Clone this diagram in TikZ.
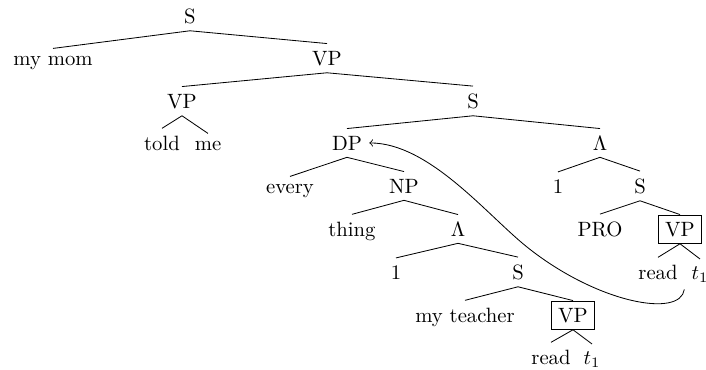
\documentclass[tikz,border=0pt]{standalone}
\usepackage{tikz}

\begin{document}
\begin{tikzpicture}[x=0.4831pt, y=-0.4831pt,
    every node/.style={anchor=base},
    boxed/.style={draw}]
    \useasboundingbox (0,0) rectangle (706,369);
    % levels of the tree
    \node (s0) at (190,23) {S};
    \node (mymom) at (53,65) {my mom};
    \node (vp1) at (327,65) {VP};
    \node (vp2) at (182,108) {VP};
    \node (s1) at (473,108) {S};
    \node (told) at (162,150) {told};
    \node (me) at (208,150) {me};
    \node (dp) at (347,150) {DP};
    \node (lam1) at (600,150) {$\Lambda$};
    \node (every) at (290,193) {every};
    \node (np) at (404,193) {NP};
    \node (one1) at (558,193) {1};
    \node (s2) at (640,193) {S};
    \node (thing) at (352,236) {thing};
    \node (lam2) at (458,236) {$\Lambda$};
    \node (pro) at (600,236) {PRO};
    \node [boxed] (vpb1) at (680,236) {VP};
    \node (one2) at (396,279) {1};
    \node (s3) at (518,279) {S};
    \node (read1) at (658,279) {read};
    \node (t1a) at (700,279) {$t_1$};
    \node (myteacher) at (465,322) {my teacher};
    \node [boxed] (vpb2) at (573,322) {VP};
    \node (read2) at (551,364) {read};
    \node (t1b) at (592,364) {$t_1$};
    % branches
    \draw (s0.south) -- (mymom.north);
    \draw (s0.south) -- (vp1.north);
    \draw (vp1.south) -- (vp2.north);
    \draw (vp1.south) -- (s1.north);
    \draw (vp2.south) -- (told.north);
    \draw (vp2.south) -- (me.north);
    \draw (s1.south) -- (dp.north);
    \draw (s1.south) -- (lam1.north);
    \draw (dp.south) -- (every.north);
    \draw (dp.south) -- (np.north);
    \draw (lam1.south) -- (one1.north);
    \draw (lam1.south) -- (s2.north);
    \draw (np.south) -- (thing.north);
    \draw (np.south) -- (lam2.north);
    \draw (s2.south) -- (pro.north);
    \draw (s2.south) -- (vpb1.north);
    \draw (lam2.south) -- (one2.north);
    \draw (lam2.south) -- (s3.north);
    \draw (vpb1.south) -- (read1.north);
    \draw (vpb1.south) -- (t1a.north);
    \draw (s3.south) -- (myteacher.north);
    \draw (s3.south) -- (vpb2.north);
    \draw (vpb2.south) -- (read2.north);
    \draw (vpb2.south) -- (t1b.north);
    % movement arrow
    \coordinate (bend) at (527,247);
    \draw [<-] (dp.east) .. controls +(60,0) and +(-40,-32) .. (bend)
        .. controls +(70,56) and +(-4,29) .. (t1a.south west);
\end{tikzpicture}
\end{document}
